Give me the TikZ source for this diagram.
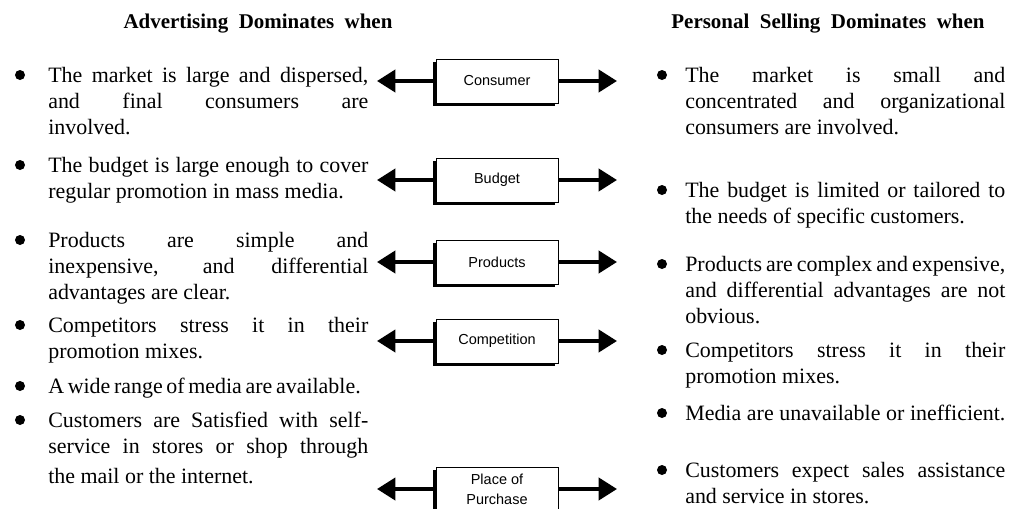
\documentclass[tikz,border=0pt]{standalone}
\usepackage{fontspec}
\setmainfont{Liberation Serif}
\newfontfamily\boxfont{Liberation Sans}
\usetikzlibrary{arrows.meta,shadows}

% widths of the two text columns
\newlength\colL \setlength\colL{227.6pt}
\newlength\colR \setlength\colR{227.6pt}
\newcommand\lj[1]{\makebox[\colL][s]{#1}}
\newcommand\rj[1]{\makebox[\colR][s]{#1}}

\tikzset{
  item/.style={anchor=north west, inner sep=0pt, align=left, font=\fontsize{15.6}{18.5}\selectfont},
  head/.style={inner sep=0pt, font=\fontsize{14.9}{17}\selectfont\bfseries},
  factor/.style={draw, thin, fill=white, minimum width=3.05cm, minimum height=1.1cm, inner sep=0pt,
    align=center, font=\boxfont\fontsize{10.3}{14}\selectfont,
    drop shadow={shadow xshift=-0.07cm, shadow yshift=-0.07cm, opacity=1, fill=black}},
  dot/.style={circle, fill, inner sep=0pt, minimum size=0.25cm},
  arr/.style={line width=2.8pt, -{Triangle[length=13pt,width=15.6pt]}}
}

\begin{document}
\begin{tikzpicture}[x=0.025cm, y=-0.025cm]
  \useasboundingbox (0,0) rectangle (1021,508);
  % Headings
  \node[head] (hadv) at (258,24) {Advertising\ \ Dominates\ \ when};
  \node[head] (hps) at (828,24) {Personal\ \ Selling\ \ Dominates\ \ when};
  % Factor boxes
  \node[factor] (cons) at (497,81) {Consumer};
  \node[factor] (budg) at (497,180) {Budget};
  \node[factor] (prod) at (497,262) {Products};
  \node[factor] (comp) at (497,341) {Competition};
  \node[factor] (place) at (497,489) {Place of\\Purchase};
  % Arrows to both sides
  \coordinate (tipL) at (377,0);
  \coordinate (tipR) at (617,0);
  \foreach \b in {cons,budg,prod,comp,place} {
    \draw[arr] (\b.west) -- (\b.west -| tipL);
    \draw[arr] (\b.east) -- (\b.east -| tipR);
  }
  % Advertising column
  \foreach \y in {75,165,240,325,386,420}
    \node[dot] (bl\y) at (20,\y) {};
  \node[item] (la1) at (48,67) {\lj{The market is large and dispersed,}\\ \lj{and final consumers are}\\ involved.};
  \node[item] (la2) at (48,157) {\lj{The budget is large enough to cover}\\ regular promotion in mass media.};
  \node[item] (la3) at (48,232) {\lj{Products are simple and}\\ \lj{inexpensive, and differential}\\ advantages are clear.};
  \node[item] (la4) at (48,317) {\lj{Competitors stress it in their}\\ promotion mixes.};
  \node[item] (la5) at (48,378) {\makebox[0.97\colL][s]{A wide range of media are available.}};
  \node[item] (la6) at (48,412) {\lj{Customers are Satisfied with self-}\\ \lj{service in stores or shop through}\\[3pt] the mail or the internet.};
  % Personal selling column
  \foreach \y in {75,190,264,350,413,470}
    \node[dot] (br\y) at (662,\y) {};
  \node[item] (ra1) at (685,67) {\rj{The market is small and}\\ \rj{concentrated and organizational}\\ consumers are involved.};
  \node[item] (ra2) at (685,182) {\rj{The budget is limited or tailored to}\\ the needs of specific customers.};
  \node[item] (ra3) at (685,256) {\rj{Products are complex and expensive,}\\ \rj{and differential advantages are not}\\ obvious.};
  \node[item] (ra4) at (685,342) {\rj{Competitors stress it in their}\\ promotion mixes.};
  \node[item] (ra5) at (685,405) {\rj{Media are unavailable or inefficient.}};
  \node[item] (ra6) at (685,462) {\rj{Customers expect sales assistance}\\ and service in stores.};
\end{tikzpicture}
\end{document}
